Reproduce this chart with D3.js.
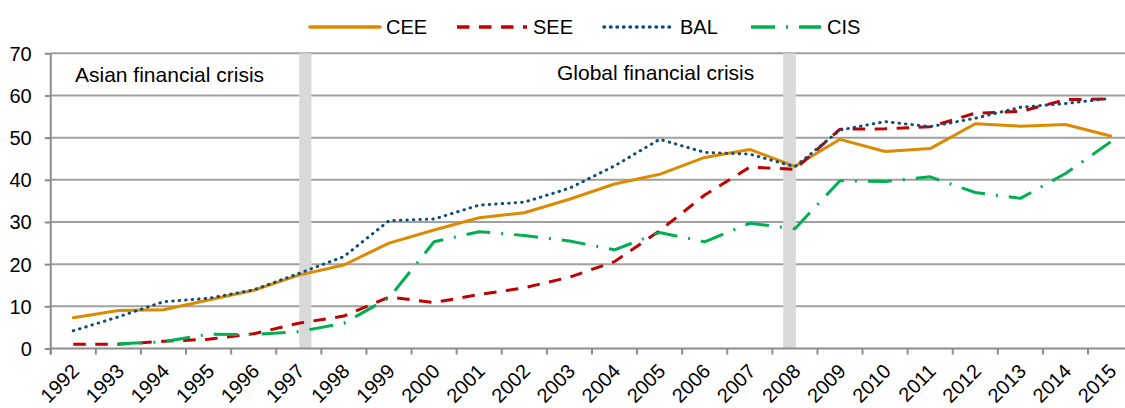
<!DOCTYPE html>
<html>
  <head>
    <meta charset="utf-8">
    <title>CEE SEE BAL CIS</title>
    <script src="https://cdn.jsdelivr.net/npm/d3@7"></script>
    <style>
    body { margin: 0; background: #fff; }
    svg text { font-family: "Liberation Sans", Arial, sans-serif; fill: #000; }
    .grid line { stroke: #a0a0a0; stroke-width: 2; }
    .axis path, .axis line { stroke: #8c8c8c; stroke-width: 2; }
    </style>
  </head>
  <body>
    <svg width="1125" height="408"></svg>
    <script>
      // data
      var years = d3.range(1992, 2016);
      var cee = [7.3, 9.0, 9.2, 11.5, 13.8, 17.4, 19.8, 25.0, 28.1, 31.0, 32.2, 35.4, 39.0, 41.3, 45.3, 47.2, 43.2, 49.6, 46.7, 47.4, 53.3, 52.7, 53.1, 50.4];
      var see = [1.0, 1.0, 1.7, 2.2, 3.5, 6.0, 7.7, 12.2, 10.9, 12.8, 14.4, 16.9, 20.6, 27.9, 36.4, 43.0, 42.5, 52.0, 52.1, 52.6, 55.8, 56.2, 59.0, 59.2];
      var bal = [4.2, 7.5, 11.1, 11.9, 13.9, 17.8, 21.8, 30.3, 30.7, 34.0, 34.7, 38.0, 43.3, 49.6, 46.5, 46.1, 43.1, 51.8, 53.8, 52.6, 54.6, 57.2, 58.1, 59.3];
      var cis = [null, 1.1, 1.6, 3.4, 3.3, 4.0, 6.0, 12.0, 25.3, 27.7, 26.8, 25.5, 23.4, 27.5, 25.3, 29.7, 28.4, 39.8, 39.6, 40.7, 37.0, 35.6, 41.5, 49.0];

      var seriesNames = ["CEE", "SEE", "BAL", "CIS"];
      var seriesValues = [cee, see, bal, cis];
      var seriesColors = ["#dd8a00", "#c00000", "#0e4d7a", "#00b050"];
      var seriesDash = [null, "12.5,9.5", "0.5,6", "24,11,2,11"];
      var seriesCap = ["round", "butt", "round", "butt"];

      var yTicks = [0, 10, 20, 30, 40, 50, 60, 70];

      var crisisLabels = ["Asian financial crisis", "Global financial crisis"];
      var crisisFrom = [1997.01, 2007.74];
      var crisisTo = [1997.28, 2008.02];

      var svg = d3.select("svg");

      var x = d3.scaleLinear().domain([1992, 2015]).range([73.3, 1110.6]);
      var step = x(1993) - x(1992);
      var y = d3.scaleLinear().domain([0, 70]).range([348.5, 53.3]);
      var left = x(1992) - step / 2;

      // gridlines
      svg.append("g").attr("class", "grid")
        .selectAll("line")
        .data(yTicks.slice(1))
        .enter().append("line")
          .attr("x1", left).attr("x2", 1125)
          .attr("y1", function(d) { return y(d); })
          .attr("y2", function(d) { return y(d); });

      // crisis bands
      svg.append("g")
        .selectAll("rect")
        .data(crisisFrom)
        .enter().append("rect")
          .attr("x", function(d) { return x(d); })
          .attr("width", function(d, i) { return x(crisisTo[i]) - x(d); })
          .attr("y", y(70))
          .attr("height", y(0) - y(70))
          .attr("fill", "#d9d9d9");

      svg.append("text").attr("x", 75).attr("y", 82)
        .style("font-size", "21px").text(crisisLabels[0]);
      svg.append("text").attr("x", 557).attr("y", 80)
        .style("font-size", "21px").text(crisisLabels[1]);

      // y axis
      var yAxis = d3.axisLeft(y).tickValues(yTicks).tickSize(6).tickPadding(13);
      var gy = svg.append("g").attr("class", "axis")
          .attr("transform", "translate(" + left + ",0)")
          .call(yAxis);
      gy.select(".domain").attr("d", "M0," + (y(0) + 6) + "V" + y(70));
      gy.selectAll("text").style("font-size", "20px").attr("dy", "0.35em");

      // x axis: ticks on category boundaries
      var boundaries = d3.range(0, years.length).map(function(i) { return years[0] - 0.5 + i; });
      var gx = svg.append("g").attr("class", "axis");
      gx.append("line").attr("x1", left).attr("x2", 1125)
        .attr("y1", y(0)).attr("y2", y(0));
      gx.selectAll(".tk").data(boundaries).enter().append("line")
        .attr("class", "tk")
        .attr("x1", function(d) { return x(d); })
        .attr("x2", function(d) { return x(d); })
        .attr("y1", y(0)).attr("y2", y(0) + 6);
      gx.selectAll("text").data(years).enter().append("text")
        .attr("text-anchor", "end")
        .attr("transform", function(d) { return "translate(" + (x(d) + 7) + "," + (y(0) + 24) + ") rotate(-45)"; })
        .style("font-size", "20px")
        .text(function(d) { return d; });

      // lines
      var line = d3.line()
        .defined(function(d) { return d != null; })
        .x(function(d, i) { return x(years[i]); })
        .y(function(d) { return y(d); });

      svg.append("g")
        .selectAll("path")
        .data(seriesValues)
        .enter().append("path")
          .attr("d", line)
          .attr("fill", "none")
          .attr("stroke", function(d, i) { return seriesColors[i]; })
          .attr("stroke-width", 3)
          .attr("stroke-linejoin", "round")
          .attr("stroke-linecap", function(d, i) { return seriesCap[i]; })
          .attr("stroke-dasharray", function(d, i) { return seriesDash[i]; });

      // legend
      var legend = svg.append("g")
        .selectAll("g")
        .data(seriesNames)
        .enter().append("g")
          .attr("transform", function(d, i) { return "translate(" + (310 + i * 147) + ",27)"; });
      legend.append("line")
        .attr("x1", 0).attr("x2", 70)
        .attr("stroke", function(d, i) { return seriesColors[i]; })
        .attr("stroke-width", 3.5)
        .attr("stroke-linecap", function(d, i) { return seriesCap[i]; })
        .attr("stroke-dasharray", function(d, i) { return seriesDash[i]; });
      legend.append("text")
        .attr("x", 76)
        .attr("dy", "0.35em")
        .style("font-size", "20px")
        .text(function(d) { return d; });
    </script>
  </body>
</html>
